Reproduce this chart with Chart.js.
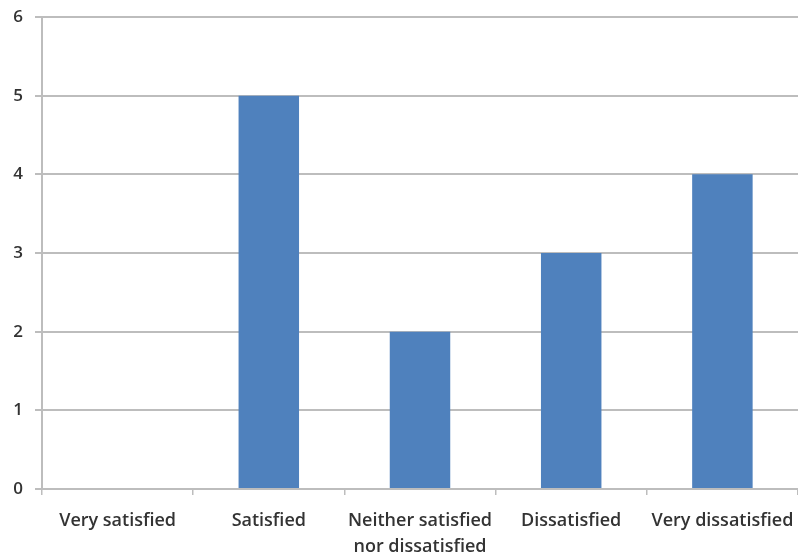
<!DOCTYPE html>
<html>
<head>
<meta charset="utf-8">
<style>
  html, body { margin: 0; padding: 0; background: #ffffff; }
  #wrap { width: 798px; height: 558px; }
</style>
<script src="https://cdn.jsdelivr.net/npm/chart.js@4/dist/chart.umd.min.js"></script>
</head>
<body>
<div id="wrap"><canvas id="c" width="798" height="558"></canvas></div>
<script>
// Survey responses by satisfaction level
const categories = [
  "Very satisfied",
  "Satisfied",
  ["Neither satisfied", "nor dissatisfied"],
  "Dissatisfied",
  "Very dissatisfied"
];
const responses = [0, 5, 2, 3, 4];
const yTicks = [0, 1, 2, 3, 4, 5, 6];

const gridColor = "#bdbdbd";
const textColor = "#333333";
const fontFamily = "'Open Sans', 'Noto Sans', sans-serif";

new Chart(document.getElementById("c"), {
  type: "bar",
  data: {
    labels: categories,
    datasets: [{
      data: responses,
      backgroundColor: "#4f81bd",
      borderWidth: 0,
      categoryPercentage: 1.0,
      barPercentage: 0.4
    }]
  },
  options: {
    responsive: false,
    animation: false,
    devicePixelRatio: 1,
    layout: { padding: { top: 17, right: 0, left: 0, bottom: 0 } },
    plugins: { legend: { display: false }, tooltip: { enabled: false } },
    scales: {
      x: {
        grid: {
          offset: true,
          drawOnChartArea: false,
          drawTicks: true,
          tickLength: 6,
          color: gridColor,
          lineWidth: 1.5
        },
        border: { display: true, color: gridColor, width: 2 },
        ticks: {
          color: textColor,
          font: { family: fontFamily, size: 18, weight: 600, lineHeight: 1.45 },
          padding: 13,
          maxRotation: 0,
          autoSkip: false
        },
        afterFit: s => { s.height = 69; s.paddingLeft = 0; s.paddingRight = 0; }
      },
      y: {
        min: 0,
        max: 6,
        afterBuildTicks: s => { s.ticks = yTicks.map(v => ({ value: v })); },
        grid: {
          color: gridColor,
          lineWidth: 2,
          tickLength: 7,
          drawTicks: true
        },
        border: { display: true, color: gridColor, width: 2 },
        ticks: {
          color: textColor,
          font: { family: fontFamily, size: 17, weight: 600 },
          padding: 12
        },
        afterFit: s => { s.width = 42; s.paddingTop = 0; s.paddingBottom = 0; }
      }
    }
  }
});
</script>
</body>
</html>
